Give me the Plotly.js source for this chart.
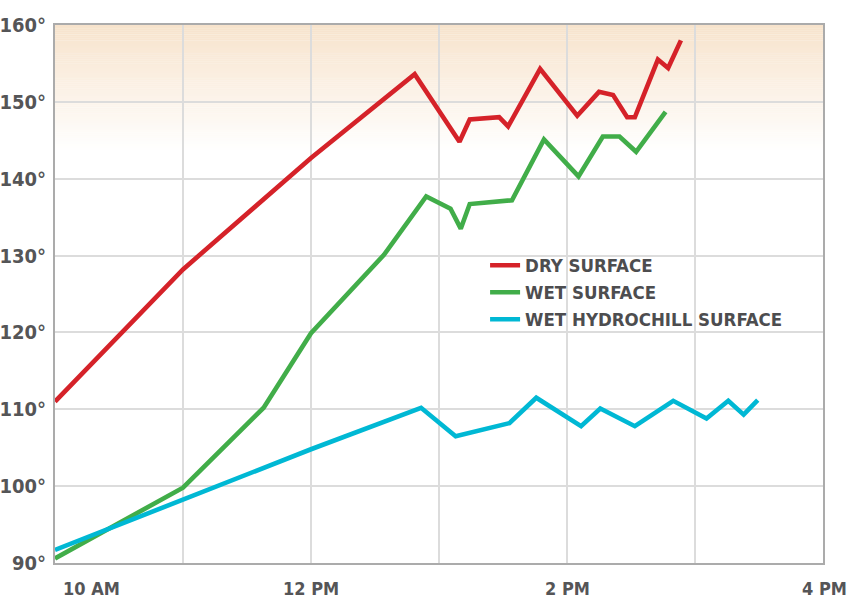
<!DOCTYPE html>
<html>
<head>
<meta charset="utf-8">
<script src="https://cdn.plot.ly/plotly-3.0.1.min.js"></script>
<style>
  html, body { margin: 0; padding: 0; background: #ffffff; }
  #chart { width: 851px; height: 599px; }
</style>
</head>
<body>
<div id="chart"></div>
<script>
// ---- Data (time in decimal hours, temperature in °F) ----
const dryTime = [10.0, 11.0, 12.0, 12.81, 13.16, 13.24, 13.47, 13.54, 13.79, 14.08, 14.25, 14.36, 14.47, 14.53, 14.71, 14.79, 14.89];
const dryTemp = [111.0, 128.2, 142.7, 153.6, 144.8, 147.7, 148.0, 146.8, 154.3, 148.2, 151.3, 150.9, 148.0, 148.0, 155.5, 154.4, 158.0];

const wetTime = [10.0, 11.0, 11.63, 12.0, 12.57, 12.90, 13.09, 13.17, 13.24, 13.57, 13.82, 14.09, 14.28, 14.41, 14.54, 14.77];
const wetTemp = [90.6, 99.8, 110.2, 119.9, 130.1, 137.7, 136.1, 133.5, 136.7, 137.2, 145.1, 140.3, 145.5, 145.5, 143.5, 148.7];

const hydroTime = [10.0, 11.0, 12.0, 12.86, 13.13, 13.55, 13.76, 14.11, 14.26, 14.53, 14.83, 15.09, 15.26, 15.38, 15.49];
const hydroTemp = [91.7, 98.3, 104.8, 110.2, 106.5, 108.2, 111.5, 107.8, 110.1, 107.8, 111.1, 108.8, 111.1, 109.3, 111.2];

const seriesNames = ["DRY SURFACE", "WET SURFACE", "WET HYDROCHILL SURFACE"];
const seriesColors = ["#d52229", "#41ad49", "#00b8d4"];

const xTickVals = [10, 12, 14, 16];
const xTickText = ["10 AM", "12 PM", "2 PM", "4 PM"];

// ---- Styling ----
const FONT = '"DejaVu Sans Condensed", "Liberation Sans Narrow", "Arial Narrow", sans-serif';
const TEXT_COLOR = '#555557';

const traces = [
  {x: dryTime, y: dryTemp, name: seriesNames[0]},
  {x: wetTime, y: wetTemp, name: seriesNames[1]},
  {x: hydroTime, y: hydroTemp, name: seriesNames[2]}
].map((t, i) => Object.assign(t, {
  type: 'scatter', mode: 'lines',
  line: {color: seriesColors[i], width: 4.6},
  hoverinfo: 'skip'
}));

// background gradient band at the top of the plot (peach -> white), drawn below the grid
const shapes = [];
const gTop = 160, gBottom = 143.5, steps = 66;
const c0 = [247, 227, 204];
for (let i = 0; i < steps; i++) {
  const yA = gBottom + (gTop - gBottom) * i / steps;
  const yB = gBottom + (gTop - gBottom) * (i + 1) / steps;
  const f = (i + 0.5) / steps;
  const col = c0.map(c => Math.round(255 + (c - 255) * f));
  shapes.push({
    type: 'rect', xref: 'paper', yref: 'y', x0: 0, x1: 1, y0: yA, y1: yB + 0.03,
    fillcolor: 'rgb(' + col.join(',') + ')', line: {width: 0}, layer: 'below'
  });
}

// x tick labels as annotations (edge labels are nudged inside like the reference)
const anchors = ['left', 'center', 'center', 'right'];
const shifts = [6, 0, 0, 26];
const annotations = xTickVals.map((v, i) => ({
  x: v, xref: 'x', y: 0, yref: 'paper', yanchor: 'middle', yshift: -25,
  xanchor: anchors[i], xshift: shifts[i], showarrow: false,
  text: xTickText[i],
  font: {family: FONT, size: 18, color: TEXT_COLOR, weight: 700}
}));

const layout = {
  width: 851, height: 599,
  margin: {l: 55, r: 28, t: 25, b: 36, pad: 0},
  paper_bgcolor: '#ffffff', plot_bgcolor: '#ffffff',
  showlegend: true,
  hovermode: false,
  xaxis: {
    range: [10, 16], dtick: 1, tick0: 10,
    showgrid: true, gridcolor: '#dcdcdc', gridwidth: 2,
    showline: true, linecolor: '#ababab', linewidth: 2, mirror: true,
    zeroline: false, showticklabels: false, ticks: ''
  },
  yaxis: {
    range: [90, 160], dtick: 10, tick0: 90,
    showgrid: true, gridcolor: '#dcdcdc', gridwidth: 2,
    showline: true, linecolor: '#ababab', linewidth: 2, mirror: true,
    zeroline: false, ticks: '', ticksuffix: '°', ticklabelstandoff: 3,
    tickfont: {family: FONT, size: 20, color: TEXT_COLOR, weight: 700}
  },
  legend: {
    x: 0.56, xanchor: 'left', y: 0.588, yanchor: 'top',
    bgcolor: 'rgba(0,0,0,0)', borderwidth: 0,
    font: {family: FONT, size: 18.5, color: '#4d4d4f', weight: 700},
    itemwidth: 30
  },
  shapes: shapes,
  annotations: annotations
};

Plotly.newPlot('chart', traces, layout, {displayModeBar: false, staticPlot: true});
</script>
</body>
</html>
